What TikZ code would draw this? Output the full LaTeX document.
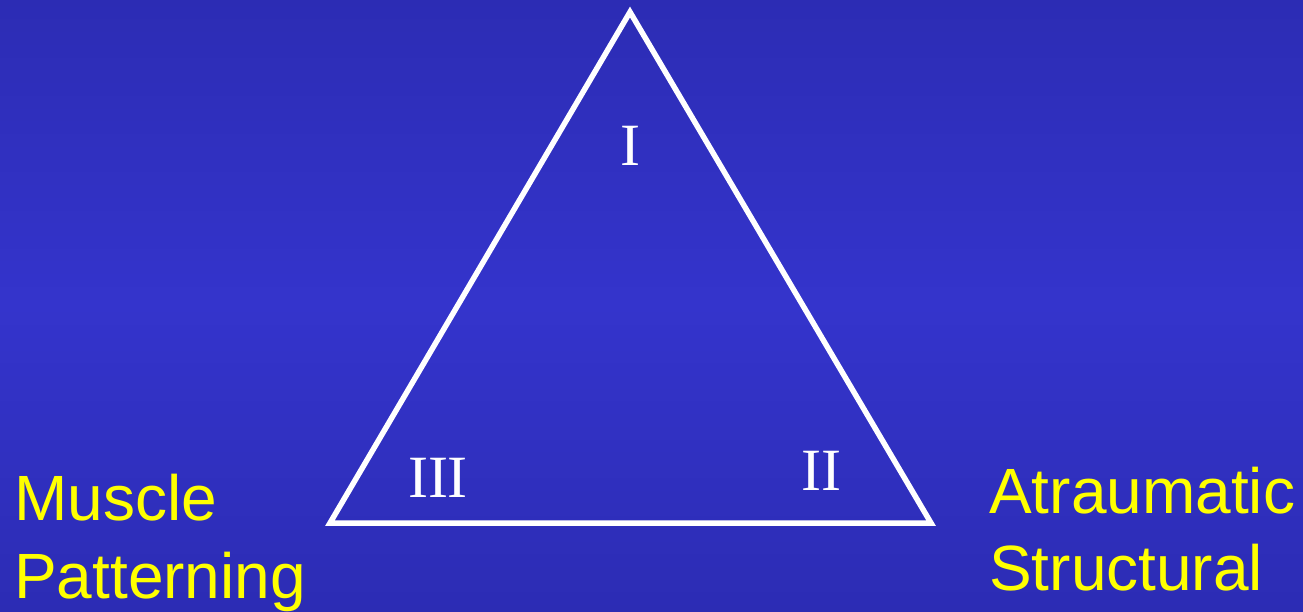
\documentclass[tikz,border=0pt]{standalone}
\usepackage{fontspec}
\setmainfont{Liberation Serif}
\setsansfont{Liberation Sans}
\definecolor{bgedge}{HTML}{2C2CB4}
\definecolor{bgmid}{HTML}{3434CC}
\definecolor{lbl}{HTML}{FFFF00}
\begin{document}
\begin{tikzpicture}[x=1pt,y=-1pt,
  numeral/.style={text=white,inner sep=0pt,font=\fontsize{60}{62}\selectfont},
  side/.style={text=lbl,inner sep=0pt,anchor=base west,font=\sffamily\fontsize{64}{70}\selectfont}]
\shade[top color=bgedge,bottom color=bgedge,middle color=bgmid] (0,0) rectangle (1303,611);
\useasboundingbox (0,0) rectangle (1303,611);
\coordinate (A) at (630,12);
\coordinate (B) at (931,523);
\coordinate (C) at (330,523);
\draw[white,line width=5.5pt,line join=miter] (A) -- (B) -- (C) -- cycle;
\node[numeral,anchor=base] (n1) at (630,165) {I};
\node[numeral,anchor=base] (n2) at (821,490) {II};
\node[numeral,anchor=base] (n3) at (438,497) {III};
\node[side] (m1) at (14,520) {Muscle};
\node[side] (m2) at (14,598) {Patterning};
\node[side] (a1) at (989,513) {Atraumatic};
\node[side] (a2) at (989,590) {Structural};
\end{tikzpicture}
\end{document}
